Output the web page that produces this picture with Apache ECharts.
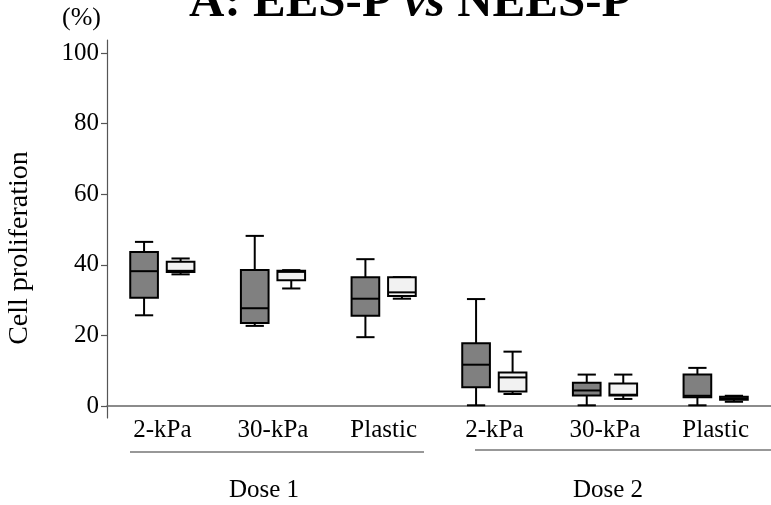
<!DOCTYPE html>
<html>
<head>
<meta charset="utf-8">
<script src="https://cdn.jsdelivr.net/npm/echarts@6/dist/echarts.min.js"></script>
<style>html,body{margin:0;padding:0;background:#fff;}#main{width:771px;height:505px;}</style>
</head>
<body>
<div id="main"></div>
<script>
// Data
var categories = ['2-kPa', '30-kPa', 'Plastic', '2-kPa', '30-kPa', 'Plastic'];
var groupLabels = ['Dose 1', 'Dose 2'];
var yTicks = [0, 20, 40, 60, 80, 100];
// [min, Q1, median, Q3, max]
var eesP = [
  [25.7, 30.7, 38.2, 43.6, 46.5],
  [22.7, 23.5, 27.7, 38.5, 48.2],
  [19.5, 25.6, 30.4, 36.5, 41.6],
  [0.2, 5.3, 11.7, 17.8, 30.3],
  [0.2, 3.0, 4.4, 6.6, 8.9],
  [0.2, 2.5, 2.9, 8.9, 10.8]
];
var neesP = [
  [37.3, 38.0, 38.3, 40.9, 41.8],
  [33.3, 35.6, 38.0, 38.3, 38.5],
  [30.4, 31.2, 32.2, 36.5, 36.5],
  [3.4, 4.1, 8.1, 9.5, 15.4],
  [2.0, 3.0, 3.2, 6.4, 8.9],
  [1.2, 1.8, 2.2, 2.6, 2.9]
];

var FONT = 'Liberation Serif';

function toSeriesData(arr) {
  return arr.map(function (d, i) { return [i].concat(d); });
}

function makeRender(offsetFrac, fill) {
  return function (params, api) {
    var idx = api.value(0);
    var band = api.size([1, 0])[0];
    var cx = api.coord([idx, 0])[0] + offsetFrac * band;
    var bw = band * 0.25;
    var cw = band * 0.165;
    var yMin = api.coord([idx, api.value(1)])[1];
    var yQ1 = api.coord([idx, api.value(2)])[1];
    var yMed = api.coord([idx, api.value(3)])[1];
    var yQ3 = api.coord([idx, api.value(4)])[1];
    var yMax = api.coord([idx, api.value(5)])[1];
    var ls = { stroke: '#000', lineWidth: 2 };
    return {
      type: 'group',
      children: [
        { type: 'line', shape: { x1: cx, y1: yQ3, x2: cx, y2: yMax }, style: ls },
        { type: 'line', shape: { x1: cx, y1: yQ1, x2: cx, y2: yMin }, style: ls },
        { type: 'line', shape: { x1: cx - cw / 2, y1: yMax, x2: cx + cw / 2, y2: yMax }, style: ls },
        { type: 'line', shape: { x1: cx - cw / 2, y1: yMin, x2: cx + cw / 2, y2: yMin }, style: ls },
        { type: 'rect', shape: { x: cx - bw / 2, y: yQ3, width: bw, height: yQ1 - yQ3 }, style: { fill: fill, stroke: '#000', lineWidth: 2 } },
        { type: 'line', shape: { x1: cx - bw / 2, y1: yMed, x2: cx + bw / 2, y2: yMed }, style: ls }
      ]
    };
  };
}

var chart = echarts.init(document.getElementById('main'), null, { renderer: 'canvas' });
var option = {
  backgroundColor: '#fff',
  animation: false,
  title: {
    left: 184,
    top: -26,
    text: '{b|A: EES-P }{i|vs}{b| NEES-P}',
    textStyle: {
      rich: {
        b: { fontFamily: FONT, fontSize: 49, fontWeight: 'bold', color: '#000' },
        i: { fontFamily: FONT, fontSize: 49, fontWeight: 'bold', fontStyle: 'italic', color: '#000' }
      }
    }
  },
  grid: { left: 107, right: -9, top: 40, bottom: 87, containLabel: false },
  xAxis: {
    type: 'category',
    data: categories,
    axisLine: { onZero: true, lineStyle: { color: '#666', width: 1.5 } },
    axisTick: { show: false },
    axisLabel: { color: '#000', fontFamily: FONT, fontSize: 25, margin: 0, interval: 0 },
    splitLine: { show: false }
  },
  yAxis: {
    type: 'value',
    min: -3.4,
    max: 103.7,
    axisLine: { show: true, lineStyle: { color: '#555', width: 1.2 } },
    axisTick: { show: true, customValues: yTicks, length: 6, lineStyle: { color: '#555', width: 1.2 } },
    axisLabel: { customValues: yTicks, color: '#000', fontFamily: FONT, fontSize: 25, margin: 8 },
    splitLine: { show: false }
  },
  graphic: [
    { type: 'text', left: 62, top: 5, style: { text: '(%)', fontFamily: FONT, fontSize: 26, fill: '#000' } },
    { type: 'text', x: 20, y: 248, rotation: Math.PI / 2, style: { text: 'Cell proliferation', fontFamily: FONT, fontSize: 28, fill: '#000', align: 'center', verticalAlign: 'middle' } },
    { type: 'line', shape: { x1: 130, y1: 452, x2: 424, y2: 452 }, style: { stroke: '#333', lineWidth: 1.2 } },
    { type: 'line', shape: { x1: 475, y1: 450, x2: 771, y2: 450 }, style: { stroke: '#333', lineWidth: 1.2 } },
    { type: 'text', x: 264, y: 490, style: { text: groupLabels[0], fontFamily: FONT, fontSize: 25, fill: '#000', align: 'center', verticalAlign: 'middle' } },
    { type: 'text', x: 608, y: 490, style: { text: groupLabels[1], fontFamily: FONT, fontSize: 25, fill: '#000', align: 'center', verticalAlign: 'middle' } }
  ],
  series: [
    { type: 'custom', name: 'EES-P', renderItem: makeRender(-0.165, '#808080'), data: toSeriesData(eesP), encode: { x: 0, y: [1, 2, 3, 4, 5] }, clip: false },
    { type: 'custom', name: 'NEES-P', renderItem: makeRender(0.165, '#f2f2f2'), data: toSeriesData(neesP), encode: { x: 0, y: [1, 2, 3, 4, 5] }, clip: false }
  ]
};
chart.setOption(option);
</script>
</body>
</html>
